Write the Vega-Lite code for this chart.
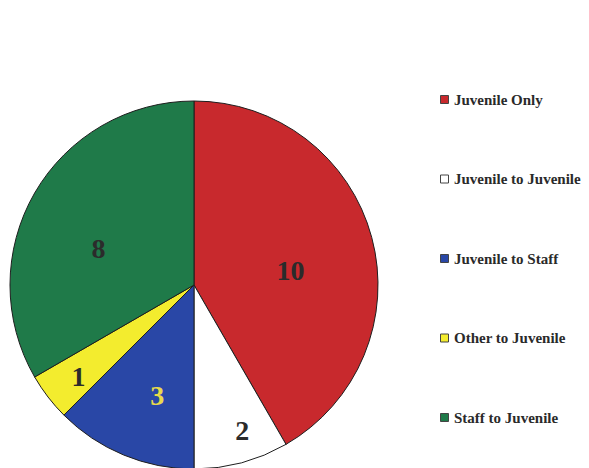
{
  "$schema": "https://vega.github.io/schema/vega-lite/v6.json",
  "width": 589,
  "height": 468,
  "autosize": "none",
  "padding": 0,
  "background": "white",
  "data": {
    "values": [
      {"category": "Juvenile Only", "count": 10},
      {"category": "Juvenile to Juvenile", "count": 2},
      {"category": "Juvenile to Staff", "count": 3},
      {"category": "Other to Juvenile", "count": 1},
      {"category": "Staff to Juvenile", "count": 8}
    ]
  },
  "transform": [
    {"stack": "count", "groupby": [], "as": ["s0", "s1"], "sort": [{"field": "category", "order": "ascending"}]},
    {"calculate": "(datum.s0 + datum.s1) / 2", "as": "mid"}
  ],
  "layer": [
    {
      "mark": {"type": "arc", "x": 194, "y": 285, "outerRadius": 184, "stroke": "#1e1e1e", "strokeWidth": 1},
      "encoding": {
        "theta": {"field": "s0", "type": "quantitative", "scale": {"domain": [0, 24]}},
        "theta2": {"field": "s1"},
        "color": {
          "field": "category",
          "type": "nominal",
          "scale": {
            "domain": ["Juvenile Only", "Juvenile to Juvenile", "Juvenile to Staff", "Other to Juvenile", "Staff to Juvenile"],
            "range": ["#c8292d", "#ffffff", "#2947a6", "#f3ec2e", "#1f7a49"]
          },
          "legend": {
            "title": null,
            "orient": "none",
            "legendX": 437,
            "legendY": 92,
            "symbolType": "square",
            "symbolSize": 64,
            "symbolStrokeColor": "#444444",
            "symbolStrokeWidth": 1,
            "labelFont": "Liberation Serif",
            "labelFontWeight": "bold",
            "labelFontSize": 15,
            "labelColor": "#2a2a2a",
            "labelOffset": 2,
            "labelLimit": 300,
            "rowPadding": 63.5
          }
        }
      }
    },
    {
      "transform": [{"filter": "datum.category === 'Juvenile Only'"}],
      "mark": {"type": "text", "x": 194, "y": 285, "radius": 100, "dy": 13, "font": "Liberation Serif", "fontWeight": "bold", "fontSize": 28, "color": "#2b2b2b", "baseline": "middle", "align": "center"},
      "encoding": {
        "theta": {"field": "mid", "type": "quantitative", "scale": {"domain": [0, 24]}},
        "text": {"field": "count", "type": "quantitative"}
      }
    },
    {
      "transform": [{"filter": "datum.category === 'Staff to Juvenile'"}],
      "mark": {"type": "text", "x": 194, "y": 285, "radius": 100, "dx": -9, "dy": 15, "font": "Liberation Serif", "fontWeight": "bold", "fontSize": 28, "color": "#2b2b2b", "baseline": "middle", "align": "center"},
      "encoding": {
        "theta": {"field": "mid", "type": "quantitative", "scale": {"domain": [0, 24]}},
        "text": {"field": "count", "type": "quantitative"}
      }
    },
    {
      "transform": [{"filter": "datum.category === 'Juvenile to Juvenile'"}],
      "mark": {"type": "text", "x": 194, "y": 285, "radius": 152, "dx": 9, "font": "Liberation Serif", "fontWeight": "bold", "fontSize": 28, "color": "#2b2b2b", "baseline": "middle", "align": "center"},
      "encoding": {
        "theta": {"field": "mid", "type": "quantitative", "scale": {"domain": [0, 24]}},
        "text": {"field": "count", "type": "quantitative"}
      }
    },
    {
      "transform": [{"filter": "datum.category === 'Other to Juvenile'"}],
      "mark": {"type": "text", "x": 194, "y": 285, "radius": 152, "dx": 5, "font": "Liberation Serif", "fontWeight": "bold", "fontSize": 28, "color": "#2b2b2b", "baseline": "middle", "align": "center"},
      "encoding": {
        "theta": {"field": "mid", "type": "quantitative", "scale": {"domain": [0, 24]}},
        "text": {"field": "count", "type": "quantitative"}
      }
    },
    {
      "transform": [{"filter": "datum.category === 'Juvenile to Staff'"}],
      "mark": {"type": "text", "x": 194, "y": 285, "radius": 117, "dx": 8, "dy": 4, "font": "Liberation Serif", "fontWeight": "bold", "fontSize": 28, "color": "#e8da4c", "baseline": "middle", "align": "center"},
      "encoding": {
        "theta": {"field": "mid", "type": "quantitative", "scale": {"domain": [0, 24]}},
        "text": {"field": "count", "type": "quantitative"}
      }
    }
  ]
}
